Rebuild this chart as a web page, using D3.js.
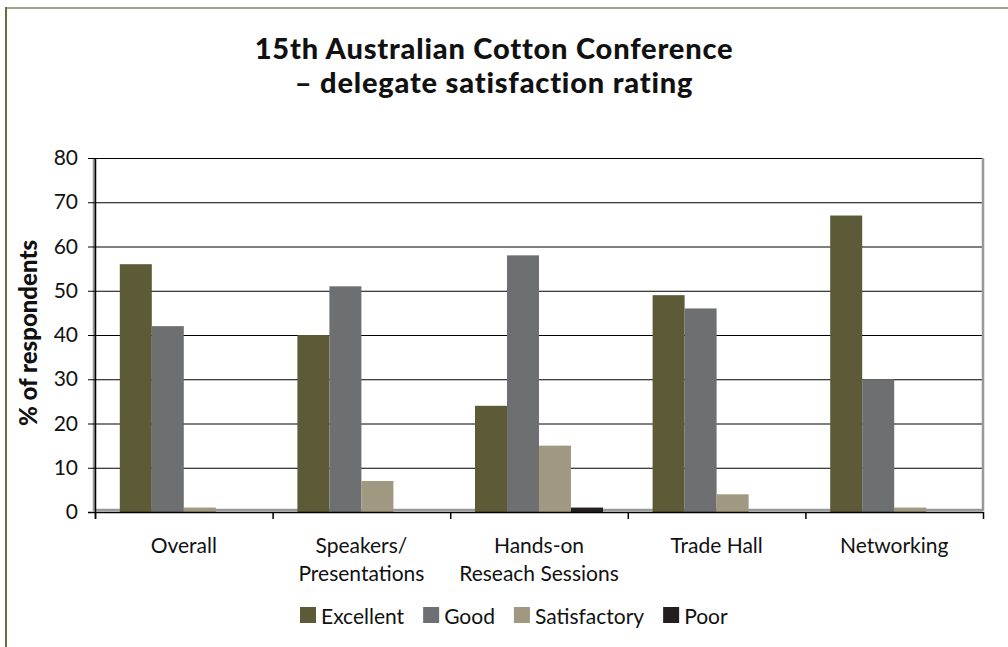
<!DOCTYPE html>
<html>
<head>
<meta charset="utf-8">
<script src="https://cdn.jsdelivr.net/npm/d3@7"></script>
<style>
  body { margin: 0; background: #fff; }
  svg text { font-family: Lato, "Open Sans", sans-serif; fill: #111; }
</style>
</head>
<body>
<svg id="chart" width="1008" height="647"></svg>
<script>
// data
const categories = [["Overall"], ["Speakers/", "Presentations"], ["Hands-on", "Reseach Sessions"], ["Trade Hall"], ["Networking"]];
const seriesNames = ["Excellent", "Good", "Satisfactory", "Poor"];
const excellent = [56, 40, 24, 49, 67];
const good = [42, 51, 58, 46, 30];
const satisfactory = [1, 7, 15, 4, 1];
const poor = [0, 0, 1, 0, 0];
const yTicks = [0, 10, 20, 30, 40, 50, 60, 70, 80];
const colors = ["#5c5a37", "#6e6f71", "#a09880", "#231f20"];

const values = [excellent, good, satisfactory, poor];
const data = categories.map((c, i) => ({
  key: i,
  label: c,
  vals: seriesNames.map((s, j) => ({ series: s, value: values[j][i] }))
}));

const margin = { top: 158, right: 25, bottom: 135, left: 95 };
const width = 1008, height = 647;
const chartW = width - margin.left - margin.right;
const chartH = height - margin.top - margin.bottom;

const svg = d3.select("#chart");

// outer frame
svg.append("line").attr("x1", 6).attr("x2", width).attr("y1", 8).attr("y2", 8)
  .attr("stroke", "#a3a38e").attr("stroke-width", 2);
svg.append("line").attr("x1", 6).attr("x2", 6).attr("y1", 7).attr("y2", height)
  .attr("stroke", "#6d6b3e").attr("stroke-width", 2);

// title
const title = svg.append("text").attr("text-anchor", "middle")
  .style("font-size", "29px").style("font-weight", "900").style("letter-spacing", "0.8px");
title.append("tspan").attr("x", 494).attr("y", 59).text("15th Australian Cotton Conference");
title.append("tspan").attr("x", 494).attr("y", 93).text("– delegate satisfaction rating");

const g = svg.append("g").attr("transform", `translate(${margin.left},${margin.top})`);

const x0 = d3.scaleBand().domain(data.map(d => d.key)).range([0, chartW]).paddingInner(0).paddingOuter(0);
const x1 = d3.scaleBand().domain(seriesNames).range([0, x0.bandwidth()]).paddingOuter(0.775).paddingInner(0);
const y = d3.scaleLinear().domain([0, 80]).range([chartH, 0]);

// gridlines
g.append("g").selectAll("line").data(yTicks.slice(1)).join("line")
  .attr("x1", 0).attr("x2", chartW)
  .attr("y1", d => y(d) + 0.5).attr("y2", d => y(d) + 0.5)
  .attr("stroke", "#000").attr("stroke-width", 1);

// plot area border (grey)
g.append("path")
  .attr("d", `M-1,${y(80)}V${chartH - 2}H${chartW}V${y(80)}`)
  .attr("fill", "none").attr("stroke", "#999").attr("stroke-width", 2.5);

// bars
g.append("g").selectAll("g").data(data).join("g")
  .attr("transform", d => `translate(${x0(d.key)},0)`)
  .selectAll("rect").data(d => d.vals).join("rect")
  .attr("x", d => x1(d.series))
  .attr("width", x1.bandwidth())
  .attr("y", d => y(d.value))
  .attr("height", d => chartH - y(d.value))
  .attr("fill", (d, i) => colors[i]);

// y axis
const yAxis = g.append("g").call(d3.axisLeft(y).tickValues(yTicks).tickSize(7).tickPadding(10));
yAxis.select(".domain").attr("stroke", "#000").attr("stroke-width", 1.5)
  .attr("d", `M0.5,${y(80)}V${chartH + 7}`);
yAxis.selectAll(".tick line").attr("stroke", "#000");
yAxis.selectAll("text").style("font-size", "21px").attr("fill", "#111");

// x axis line + category boundary ticks
const xg = g.append("g").attr("transform", `translate(0,${chartH})`);
xg.append("line").attr("x1", -7).attr("x2", chartW).attr("y1", 0.5).attr("y2", 0.5)
  .attr("stroke", "#000").attr("stroke-width", 1.5);
xg.selectAll("line.tk").data(data.map(d => x0(d.key)).concat([chartW])).join("line")
  .attr("class", "tk")
  .attr("x1", d => d + 0.5).attr("x2", d => d + 0.5)
  .attr("y1", 0).attr("y2", 7)
  .attr("stroke", "#000").attr("stroke-width", 1.5);

const xl = xg.selectAll("text.cat").data(data).join("text")
  .attr("class", "cat")
  .attr("text-anchor", "middle")
  .style("font-size", "21px");
xl.selectAll("tspan").data(d => d.label.map(l => ({ l, x: x0(d.key) + x0.bandwidth() / 2 })))
  .join("tspan")
  .attr("x", d => d.x)
  .attr("y", (d, i) => 41 + i * 28)
  .text(d => d.l);

// y label
svg.append("text")
  .attr("transform", "translate(37,333) rotate(-90)")
  .attr("text-anchor", "middle")
  .style("font-size", "24px").style("font-weight", "900")
  .text("% of respondents");

// legend
const legend = svg.append("g").attr("transform", "translate(300,607)");
let lx = 0;
seriesNames.forEach((s, i) => {
  const item = legend.append("g").attr("transform", `translate(${lx},0)`);
  item.append("rect").attr("width", 16).attr("height", 16).attr("fill", colors[i]);
  const t = item.append("text").attr("x", 21).attr("y", 17).style("font-size", "21px").text(s);
  lx += 21 + t.node().getComputedTextLength() + 19;
});
</script>
</body>
</html>
